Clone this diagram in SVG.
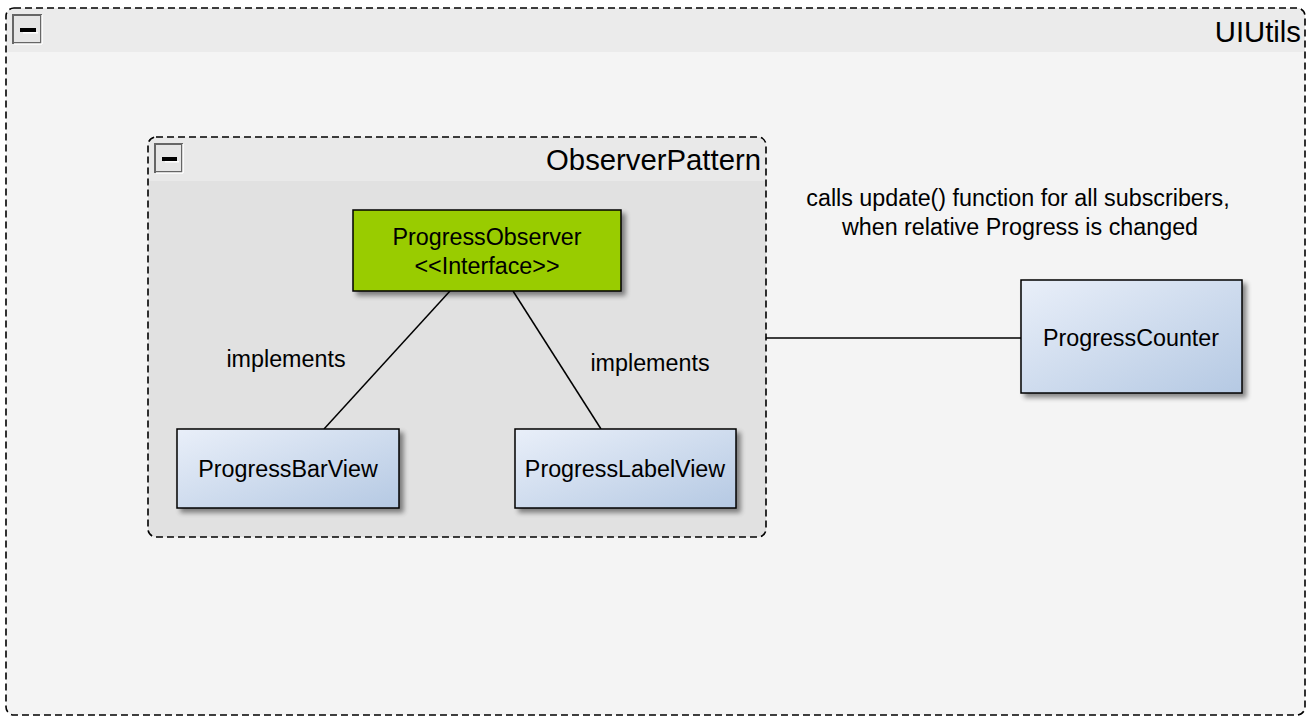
<svg xmlns="http://www.w3.org/2000/svg" width="1311" height="720" viewBox="0 0 1311 720">
<defs>
<linearGradient id="blue" x1="0" y1="0" x2="1" y2="1">
<stop offset="0" stop-color="#e9eff9"/>
<stop offset="1" stop-color="#b5c9e3"/>
</linearGradient>
<filter id="sh" x="-10%" y="-10%" width="130%" height="140%">
<feGaussianBlur in="SourceAlpha" stdDeviation="2.5"/>
<feOffset dx="4" dy="4" result="b"/>
<feComponentTransfer><feFuncA type="linear" slope="0.45"/></feComponentTransfer>
<feMerge><feMergeNode/><feMergeNode in="SourceGraphic"/></feMerge>
</filter>
</defs>
<style>
text{font-family:"Liberation Sans",Arial,sans-serif;fill:#000}
.frame{fill:none;stroke:#000;stroke-width:1.6;stroke-dasharray:7 4}
.node{stroke:#000;stroke-width:1.5}
.lbl{font-size:23.3px;text-anchor:middle}
.title{font-size:29.3px;text-anchor:end}
.conn{stroke:#000;stroke-width:1.5;fill:none}
.btn{fill:#e6e6e6;stroke:#666;stroke-width:2}
</style>
<rect width="1311" height="720" fill="#fff"/>
<g id="UIUtils">
<path d="M6 52 V16 a8 8 0 0 1 8 -8 H1297 a8 8 0 0 1 8 8 V52 Z" fill="#ebebeb"/>
<path d="M6 52 H1305 V707 a8 8 0 0 1 -8 8 H14 a8 8 0 0 1 -8 -8 Z" fill="#f4f4f4"/>
<rect class="frame" x="6" y="8" width="1299" height="707" rx="8"/>
<rect class="btn" x="13" y="15" width="28" height="28"/>
<line x1="14" y1="44" x2="42" y2="44" stroke="#fff" stroke-width="1.5"/>
<line x1="42" y1="15" x2="42" y2="44" stroke="#fff" stroke-width="1.5"/>
<rect x="20" y="28" width="16" height="4" fill="#000"/>
<rect x="23" y="32" width="15" height="1.5" fill="#fff"/>
<text class="title" x="1301" y="42">UIUtils</text>
</g>
<g id="ObserverPattern">
<path d="M148 181 V145 a8 8 0 0 1 8 -8 H758 a8 8 0 0 1 8 8 V181 Z" fill="#e9e9e9"/>
<path d="M148 181 H766 V529 a8 8 0 0 1 -8 8 H156 a8 8 0 0 1 -8 -8 Z" fill="#e1e1e1"/>
<rect class="frame" x="148" y="137" width="618" height="400" rx="8"/>
<rect class="btn" x="155" y="144" width="27" height="28"/>
<line x1="156" y1="173" x2="183" y2="173" stroke="#fff" stroke-width="1.5"/>
<line x1="183" y1="144" x2="183" y2="173" stroke="#fff" stroke-width="1.5"/>
<rect x="162" y="157" width="15" height="4" fill="#000"/>
<rect x="165" y="161" width="14" height="1.5" fill="#fff"/>
<text class="title" x="761" y="170">ObserverPattern</text>
</g>
<g id="connectors">
<line class="conn" x1="450" y1="291" x2="324" y2="429"/>
<line class="conn" x1="513" y1="291" x2="601" y2="429"/>
<line class="conn" x1="766" y1="338" x2="1021" y2="338"/>
<text class="lbl" x="286" y="367">implements</text>
<text class="lbl" x="650" y="371">implements</text>
<text class="lbl" x="1018" y="206">calls update() function for all subscribers,</text>
<text class="lbl" x="1020" y="235">when relative Progress is changed</text>
</g>
<g id="ProgressObserver">
<rect class="node" x="353" y="210" width="268" height="81" fill="#99cc00" filter="url(#sh)"/>
<text class="lbl" x="487" y="245">ProgressObserver</text>
<text class="lbl" x="487" y="274">&lt;&lt;Interface&gt;&gt;</text>
</g>
<g id="ProgressBarView">
<rect class="node" x="177" y="429" width="222" height="79" fill="url(#blue)" filter="url(#sh)"/>
<text class="lbl" x="288" y="477">ProgressBarView</text>
</g>
<g id="ProgressLabelView">
<rect class="node" x="515" y="429" width="221" height="79" fill="url(#blue)" filter="url(#sh)"/>
<text class="lbl" x="625" y="477">ProgressLabelView</text>
</g>
<g id="ProgressCounter">
<rect class="node" x="1021" y="280" width="221" height="113" fill="url(#blue)" filter="url(#sh)"/>
<text class="lbl" x="1131" y="346">ProgressCounter</text>
</g>
</svg>
